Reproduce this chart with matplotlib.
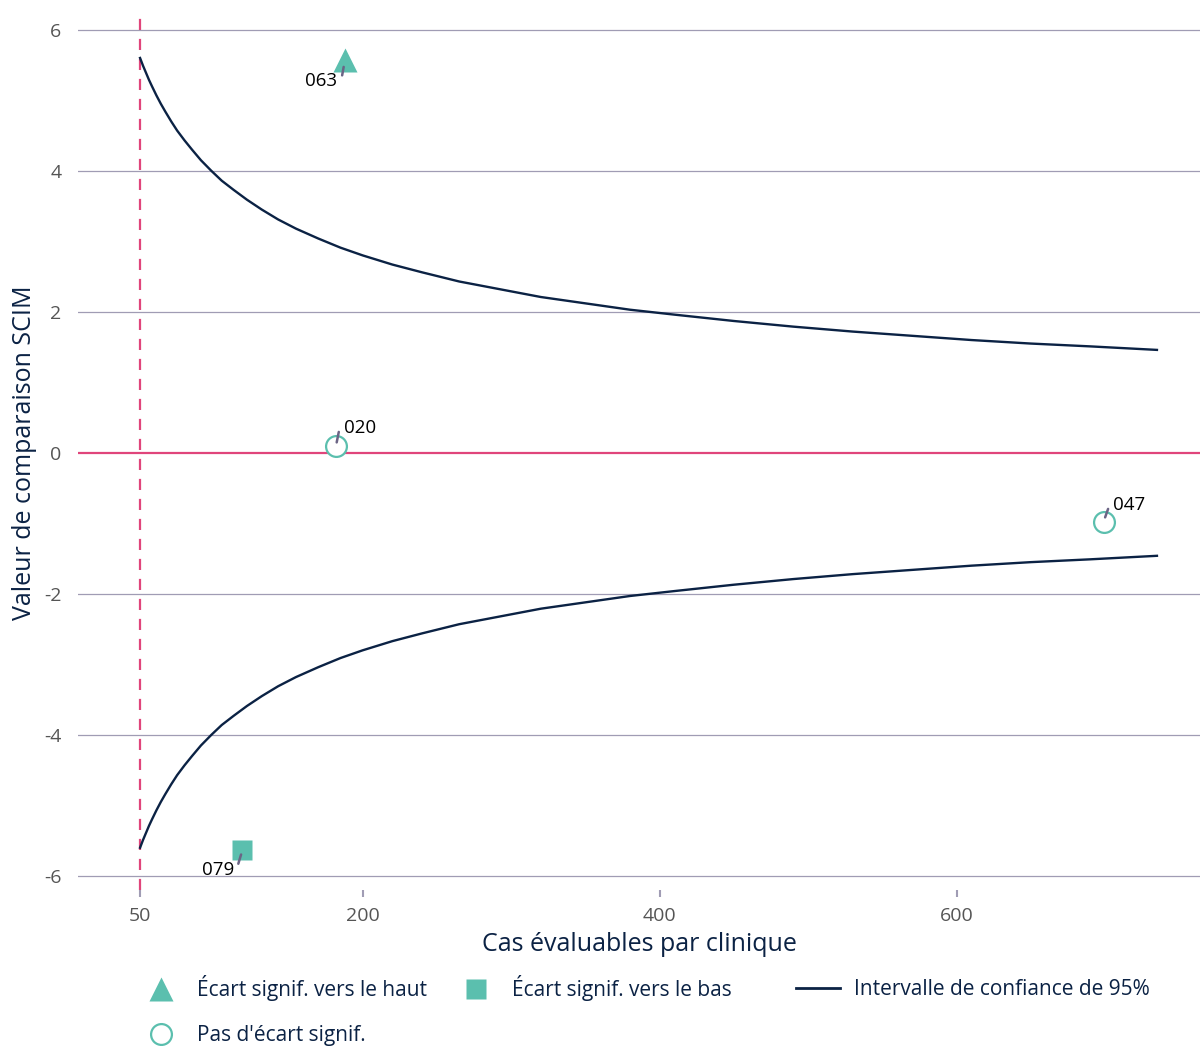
import matplotlib
matplotlib.use('Agg')
import matplotlib.pyplot as plt
from matplotlib.lines import Line2D

plt.rcParams['font.family'] = ['Open Sans', 'DejaVu Sans']
plt.rcParams['axes.unicode_minus'] = False

# cliniques
clinic_ids = ['063', '020', '047', '079']
clinic_cases = [188, 182, 699, 119]
clinic_values = [5.57, 0.10, -0.98, -5.63]
clinic_groups = ['haut', 'aucun', 'aucun', 'bas']
# décalages (points) du texte et du début du trait de rappel
text_offsets = [(-17, -15), (17.5, 13), (18.5, 12), (-17.5, -14.5)]
leader_offsets = [(-2, -11), (2, 10), (3.3, 9.4), (-3, -10)]
leader_shrink = [5, 2.5, 3.5, 3.5]

# intervalle de confiance 95%
ci_cases = [50, 52, 54, 56, 58, 61, 64, 67, 71, 75, 80, 85, 91, 98, 105, 113, 122,
            132, 143, 155, 170, 185, 200, 220, 240, 265, 290, 320, 350, 380, 410,
            450, 490, 530, 570, 610, 650, 690, 735]
ci_upper = [5.60, 5.49, 5.39, 5.29, 5.20, 5.07, 4.95, 4.84, 4.70, 4.57, 4.43, 4.30,
            4.15, 4.00, 3.86, 3.73, 3.59, 3.45, 3.31, 3.18, 3.04, 2.91, 2.80, 2.67,
            2.56, 2.43, 2.33, 2.21, 2.12, 2.03, 1.96, 1.87, 1.79, 1.72, 1.66, 1.60,
            1.55, 1.51, 1.46]
ci_lower = [-v for v in ci_upper]

min_cases = 50

NAVY = '#0b2244'
TEAL = '#5bbfae'
PINK = '#e0457b'
GRID = '#a09cb4'
LEADER = '#6b6485'

markers = {'haut': '^', 'bas': 's', 'aucun': 'o'}
marker_sizes = {'haut': 17, 'bas': 14, 'aucun': 15}

fig = plt.figure(figsize=(12, 10.46), dpi=100)
ax = fig.add_axes([0.065, 0.1491, 0.935, 0.8366])

for yv in range(-6, 7, 2):
    if yv != 0:
        ax.axhline(yv, color=GRID, lw=0.9, zorder=1)
ax.axhline(0, color=PINK, lw=1.6, zorder=2)
ax.axvline(min_cases, color=PINK, lw=1.6, ls=(0, (5, 4)), zorder=2)

ax.plot(ci_cases, ci_upper, color=NAVY, lw=1.7, zorder=3)
ax.plot(ci_cases, ci_lower, color=NAVY, lw=1.7, zorder=3)

for i, cid in enumerate(clinic_ids):
    n, v, g = clinic_cases[i], clinic_values[i], clinic_groups[i]
    m = markers[g]
    if g == 'aucun':
        ax.plot(n, v, marker=m, ms=marker_sizes[g], mfc='white', mec=TEAL, mew=1.6, zorder=4)
    else:
        ax.plot(n, v, marker=m, ms=marker_sizes[g], color=TEAL, mec='none', zorder=4)
    # trait de rappel
    ax.annotate('', (n, v), xytext=leader_offsets[i], textcoords='offset points',
                zorder=5, arrowprops=dict(arrowstyle='-', color=LEADER, lw=1.8,
                                          shrinkA=0, shrinkB=leader_shrink[i]))
    ax.annotate(cid, (n, v), xytext=text_offsets[i], textcoords='offset points',
                ha='center', va='center', fontsize=13.5, color='black', zorder=5)

ax.set_xlim(8.2, 764)
ax.set_ylim(-6.2, 6.21)
ax.set_xticks([50, 200, 400, 600])
ax.set_yticks(range(-6, 7, 2))
ax.tick_params(axis='x', length=5, width=1.5, color=GRID, pad=7, labelsize=14, labelcolor='#555555')
ax.tick_params(axis='y', length=0, pad=12, labelsize=14, labelcolor='#555555')
for s in ax.spines.values():
    s.set_visible(False)

ax.set_xlabel('Cas évaluables par clinique', fontsize=18, color=NAVY, labelpad=5)
ax.set_ylabel('Valeur de comparaison SCIM', fontsize=18, color=NAVY, labelpad=5)

# légende en trois colonnes placées à la main
h_up = Line2D([], [], ls='none', marker='^', ms=17, color=TEAL, mec='none')
h_none = Line2D([], [], ls='none', marker='o', ms=15, mfc='white', mec=TEAL, mew=1.6)
h_down = Line2D([], [], ls='none', marker='s', ms=14, color=TEAL, mec='none')
h_ci = Line2D([], [], color=NAVY, lw=2)

leg_kw = dict(loc='upper left', frameon=False, fontsize=15, labelcolor=NAVY,
              handlelength=2.1, handletextpad=0.7, labelspacing=1.15,
              borderpad=0, borderaxespad=0)
leg_y = 0.068
fig.legend([h_up, h_none], ['Écart signif. vers le haut', "Pas d'écart signif."],
           bbox_to_anchor=(139 / 1200, leg_y), **leg_kw)
fig.legend([h_down], ['Écart signif. vers le bas'],
           bbox_to_anchor=(454 / 1200, leg_y), **leg_kw)
fig.legend([h_ci], ['Intervalle de confiance de 95%'],
           bbox_to_anchor=(796 / 1200, leg_y - 4 / 1046), **leg_kw)

fig.savefig('out.png', dpi=100)
